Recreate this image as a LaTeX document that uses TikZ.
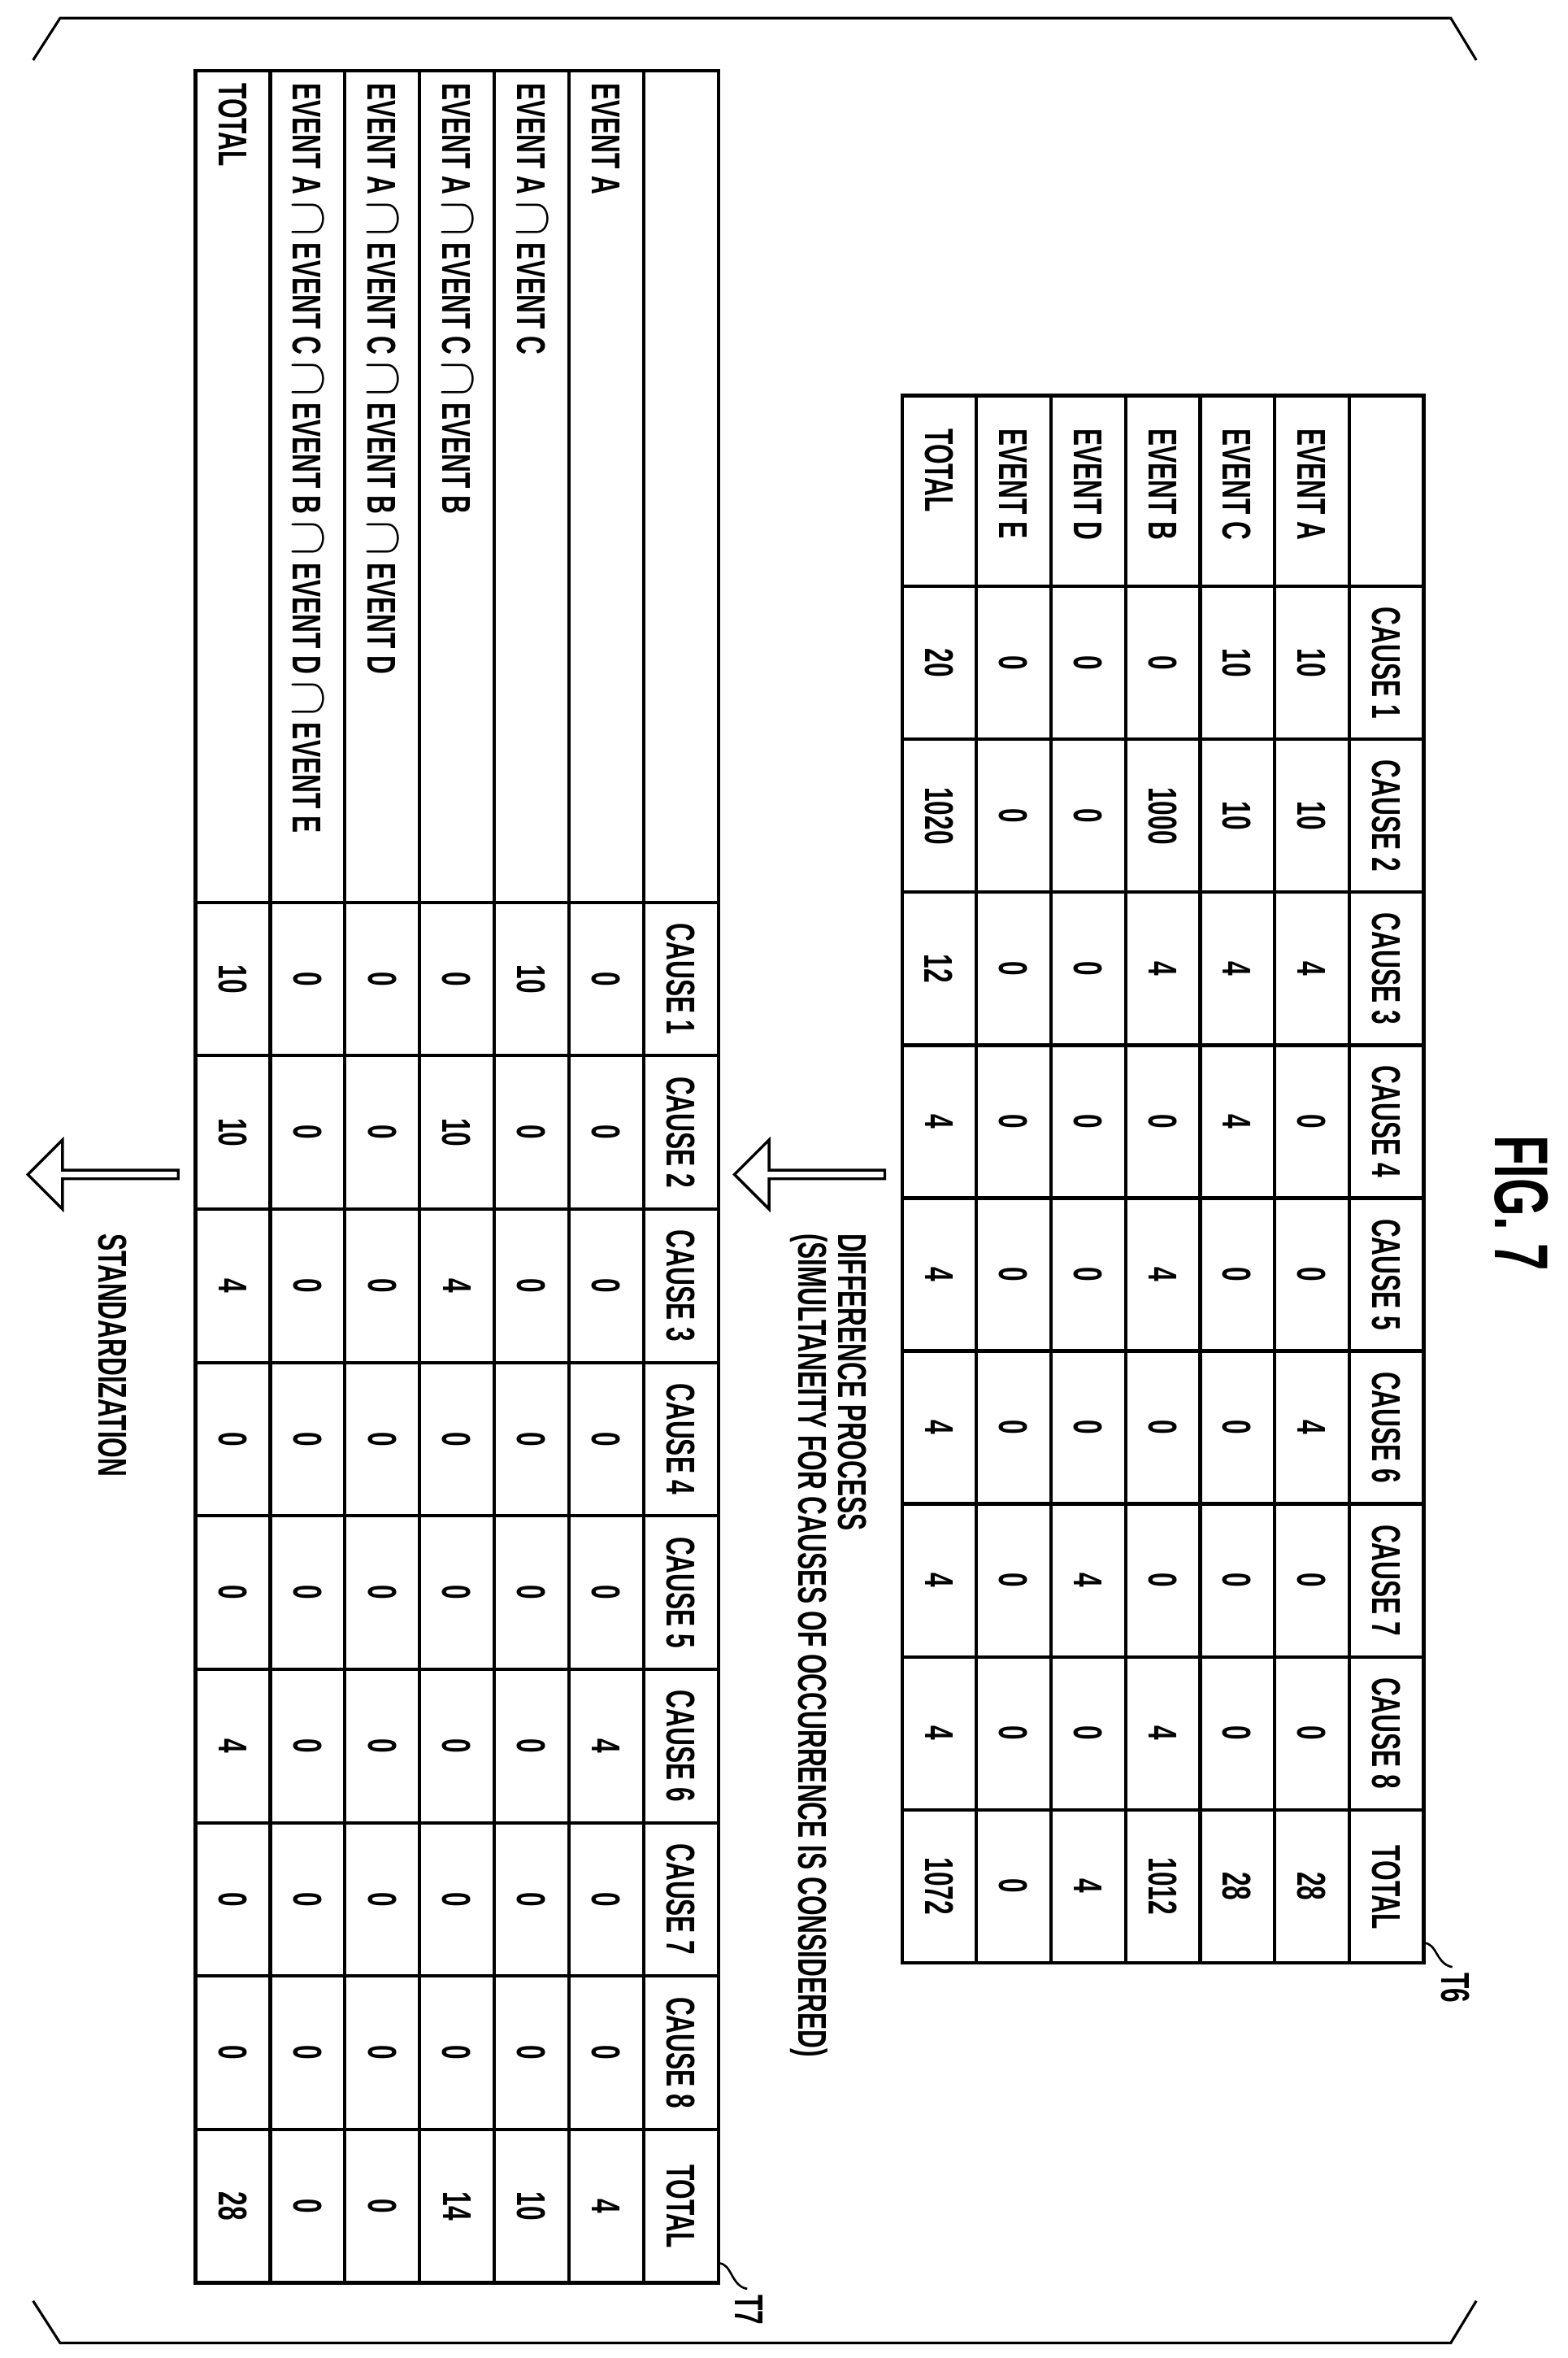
\documentclass[tikz,border=0pt]{standalone}
\usepackage{fontspec}
\setmainfont{Liberation Sans}[FakeStretch=0.64]
\usetikzlibrary{shapes.arrows}
\newcommand{\capsym}{\,{\fontsize{24}{24}\selectfont$\cap$}\,}
\begin{document}
\begin{tikzpicture}[x=0.025cm,y=-0.025cm,
	cell/.style={rotate=-90, inner sep=0pt, font=\fontsize{19}{19}\selectfont\bfseries},
	rowname/.style={cell, anchor=west},
	grid/.style={line width=1.6pt},
	bigarrow/.style={single arrow, draw, line width=1.3pt, shape border rotate=180,
		minimum height=100*0.025cm, minimum width=46*0.025cm, single arrow head extend=0.16cm,
		inner sep=0pt}]
	\useasboundingbox (0,0) rectangle (1043,1568);
	
	% corner brackets
	\draw[line width=1.2pt] (22,40) -- (40,12) -- (965,12) -- (982,40);
	\draw[line width=1.2pt] (22,1530) -- (40,1558) -- (965,1558) -- (982,1530);
	
	\node[rotate=-90, font=\fontsize{36}{36}\selectfont\bfseries] (fig) at (1012,800) {FIG. 7};
	
	%%% table T6
	\draw[grid] (600,263) rectangle (947,1305);
	\foreach \i in {1,...,6}
		\draw[grid] (947-49.57*\i,263) -- (947-49.57*\i,1305);
	\foreach \j in {0,...,8}
		\draw[grid] (600,390+101.67*\j) -- (947,390+101.67*\j);
	\foreach \j in {1,...,8}
		\node[cell] (t6h\j) at (922,390+101.67*\j-50.8) {CAUSE \j};
	\node[cell] (t6ht) at (922,1255) {TOTAL};
	\foreach \i/\name/\vals in {1/EVENT A/{10,10,4,0,0,4,0,0,28},
		2/EVENT C/{10,10,4,4,0,0,0,0,28},
		3/EVENT B/{0,1000,4,0,4,0,0,4,1012},
		4/EVENT D/{0,0,0,0,0,0,4,0,4},
		5/EVENT E/{0,0,0,0,0,0,0,0,0},
		6/TOTAL/{20,1020,12,4,4,4,4,4,1072}}{
		\node[rowname] (t6r\i) at (922-49.57*\i,285) {\name};
		\foreach \v [count=\j] in \vals
			\node[cell] (t6c\i-\j) at (922-49.57*\i,390+101.67*\j-50.8) {\v};
	}
	\node[font=\fontsize{19}{19}\selectfont\bfseries, rotate=-90] (t6) at (968,1322) {T6};
	\draw[line width=1pt] (947,1292) .. controls (956,1292) and (955,1306) .. (966,1308);
	
	%%% table T7
	\draw[grid] (130,47) rectangle (478,1518);
	\foreach \i in {1,...,6}
		\draw[grid] (478-49.71*\i,47) -- (478-49.71*\i,1518);
	\foreach \j in {0,...,8}
		\draw[grid] (130,600+102*\j) -- (478,600+102*\j);
	\foreach \j in {1,...,8}
		\node[cell] (t7h\j) at (453,600+102*\j-51) {CAUSE \j};
	\node[cell] (t7ht) at (453,1467) {TOTAL};
	\foreach \i/\name/\vals in {1/EVENT A/{0,0,0,0,0,4,0,0,4},
		2/EVENT A\capsym EVENT C/{10,0,0,0,0,0,0,0,10},
		3/EVENT A\capsym EVENT C\capsym EVENT B/{0,10,4,0,0,0,0,0,14},
		4/EVENT A\capsym EVENT C\capsym EVENT B\capsym EVENT D/{0,0,0,0,0,0,0,0,0},
		5/EVENT A\capsym EVENT C\capsym EVENT B\capsym EVENT D\capsym EVENT E/{0,0,0,0,0,0,0,0,0},
		6/TOTAL/{10,10,4,0,0,4,0,0,28}}{
		\node[rowname] (t7r\i) at (453-49.71*\i,55) {\name};
		\foreach \v [count=\j] in \vals
			\node[cell] (t7c\i-\j) at (453-49.71*\i,600+102*\j-51) {\v};
	}
	\node[font=\fontsize{19}{19}\selectfont\bfseries, rotate=-90] (t7) at (498,1536) {T7};
	\draw[line width=1pt] (478,1505) .. controls (487,1505) and (486,1520) .. (497,1522);
	
	%%% arrows and captions
	\node[bigarrow] (diff) at (540,781) {};
	\node[bigarrow] (std) at (70,781) {};
	\node[rowname] (difftxt) at (567,820) {DIFFERENCE PROCESS};
	\node[rowname] (difftxt2) at (538,820) {(SIMULTANEITY FOR CAUSES OF OCCURRENCE IS CONSIDERED)};
	\node[rowname] (stdtxt) at (75,820) {STANDARDIZATION};
\end{tikzpicture}
\end{document}
